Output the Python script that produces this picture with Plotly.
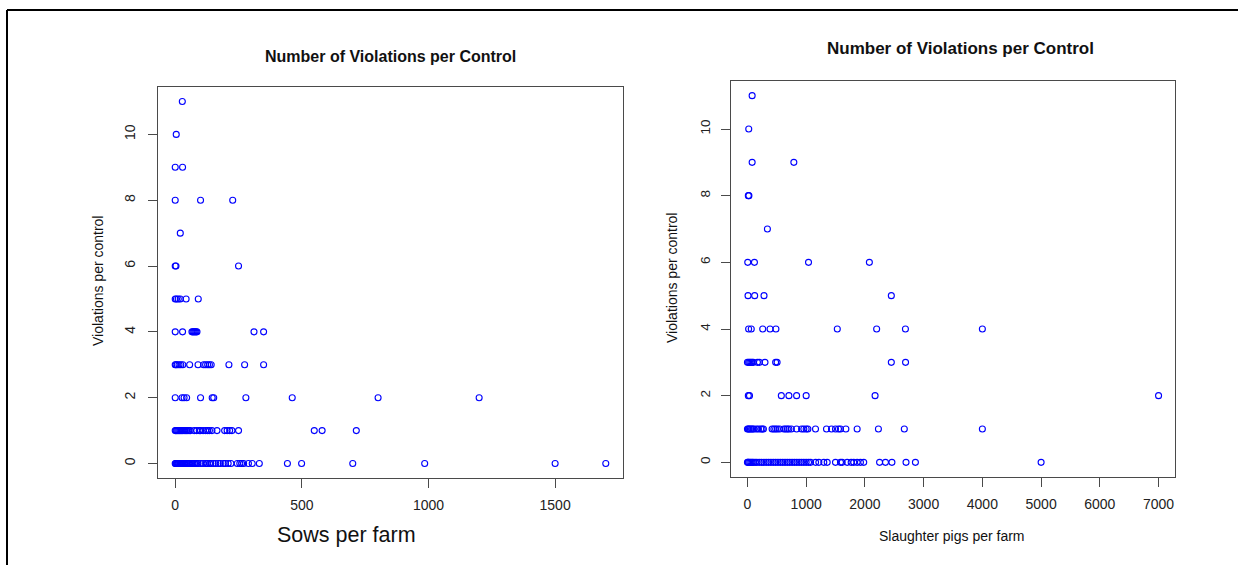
import plotly.graph_objects as go

# ---------------- data ----------------
sows_v0 = [0, 2, 5, 8, 10, 12, 15, 18, 20, 22, 25, 28, 30, 35, 40, 45, 50, 55, 60, 65, 70, 75, 80, 85, 90,
           100, 110, 120, 126, 135, 140, 150, 160, 170, 178, 190, 198, 209, 220, 245, 255, 262, 270, 289,
           304, 332, 443, 499, 701, 985, 1500, 1700]
sows_v1 = [0, 3, 6, 10, 14, 18, 22, 26, 30, 35, 40, 45, 50, 55, 60, 75, 85, 95, 100, 110, 120, 128, 135,
           145, 165, 195, 205, 215, 224, 250, 549, 580, 715]
sows_v2 = [0, 27, 35, 45, 100, 146, 152, 279, 462, 801, 1200]
sows_v3 = [0, 3, 8, 15, 22, 30, 57, 90, 112, 120, 128, 135, 142, 212, 274, 349]
sows_v4 = [0, 29, 66, 70, 74, 78, 82, 86, 311, 349]
sows_v5 = [0, 5, 12, 20, 43, 91]
sows_v6 = [0, 3, 250]
sows_v7 = [20]
sows_v8 = [0, 100, 227]
sows_v9 = [0, 29]
sows_v10 = [4]
sows_v11 = [28]

pigs_v0 = [0, 10, 20, 40, 60, 80, 100, 130, 160, 200, 240, 280, 320, 360, 400, 440, 480, 520, 560, 600,
           640, 680, 720, 760, 800, 840, 880, 920, 960, 1000, 1040, 1075, 1160, 1216, 1300, 1358, 1499,
           1584, 1613, 1698, 1766, 1810, 1868, 1924, 1980, 2250, 2350, 2460, 2700, 2860, 5000]
pigs_v1 = [0, 15, 30, 50, 70, 90, 110, 153, 187, 226, 250, 272, 420, 450, 480, 510, 549, 621, 650, 680,
           706, 747, 837, 922, 960, 1000, 1029, 1159, 1346, 1431, 1499, 1550, 1584, 1676, 1868, 2230,
           2671, 4000]
pigs_v2 = [15, 35, 577, 706, 837, 1000, 2173, 7000]
pigs_v3 = [0, 20, 40, 60, 80, 100, 170, 204, 299, 480, 505, 2450, 2692]
pigs_v4 = [20, 65, 260, 385, 485, 1530, 2200, 2690, 4000]
pigs_v5 = [10, 123, 282, 2450]
pigs_v6 = [5, 119, 1040, 2076]
pigs_v7 = [340]
pigs_v8 = [15, 25]
pigs_v9 = [80, 790]
pigs_v10 = [22]
pigs_v11 = [80]

sows_groups = [sows_v0, sows_v1, sows_v2, sows_v3, sows_v4, sows_v5, sows_v6, sows_v7, sows_v8,
               sows_v9, sows_v10, sows_v11]
pigs_groups = [pigs_v0, pigs_v1, pigs_v2, pigs_v3, pigs_v4, pigs_v5, pigs_v6, pigs_v7, pigs_v8,
               pigs_v9, pigs_v10, pigs_v11]

sows_x, sows_y = [], []
for v, g in enumerate(sows_groups):
    sows_x += g
    sows_y += [v] * len(g)
pigs_x, pigs_y = [], []
for v, g in enumerate(pigs_groups):
    pigs_x += g
    pigs_y += [v] * len(g)

left_xticks = [0, 500, 1000, 1500]
right_xticks = [0, 1000, 2000, 3000, 4000, 5000, 6000, 7000]
yticks = [0, 2, 4, 6, 8, 10]

title_text = "Number of Violations per Control"
ylab = "Violations per control"
left_xlab = "Sows per farm"
right_xlab = "Slaughter pigs per farm"

# ---------------- figure ----------------
W, H = 1238, 565
FONT = "Liberation Sans, Arial, sans-serif"
BLUE = "#0000ff"
AX = "#4a4a4a"

def px_x(p):
    return p / W

def px_y(p):
    return 1 - p / H

marker = dict(symbol="circle-open", size=6, color=BLUE, line=dict(width=1.1, color=BLUE))

fig = go.Figure()
fig.add_trace(go.Scatter(x=sows_x, y=sows_y, mode="markers", marker=marker, xaxis="x", yaxis="y",
                         showlegend=False))
fig.add_trace(go.Scatter(x=pigs_x, y=pigs_y, mode="markers", marker=marker, xaxis="x2", yaxis="y2",
                         showlegend=False))

def axis(size, standoff, **kw):
    d = dict(showline=True, mirror=True, linecolor=AX, linewidth=1, showgrid=False,
             zeroline=False, ticks="outside", ticklen=9, tickcolor=AX, tickwidth=1,
             ticklabelstandoff=standoff,
             tickfont=dict(family=FONT, size=size, color="#222"))
    d.update(kw)
    return d

fig.update_layout(
    width=W, height=H,
    margin=dict(l=0, r=0, t=0, b=0),
    paper_bgcolor="white", plot_bgcolor="white",
    xaxis=axis(14, 5, domain=[px_x(158), px_x(623)], range=[-68, 1768], tickvals=left_xticks,
               anchor="y"),
    yaxis=axis(14, 7, domain=[px_y(478), px_y(87)], range=[-0.44, 11.44], tickvals=yticks,
               tickangle=-90, anchor="x"),
    xaxis2=axis(14, 5, domain=[px_x(731), px_x(1175)], range=[-280, 7280], tickvals=right_xticks,
                anchor="y2"),
    yaxis2=axis(13.5, 6, domain=[px_y(477), px_y(81)], range=[-0.44, 11.44], tickvals=yticks,
                tickangle=-90, anchor="x2"),
)

annots = [
    dict(text="<b>" + title_text + "</b>", x=px_x(390), y=px_y(56), font=dict(size=16)),
    dict(text="<b>" + title_text + "</b>", x=px_x(960), y=px_y(48), font=dict(size=17)),
    dict(text=ylab, x=px_x(98), y=px_y(281), textangle=-90, font=dict(size=14)),
    dict(text=ylab, x=px_x(672), y=px_y(278), textangle=-90, font=dict(size=14)),
    dict(text=left_xlab, x=px_x(347), y=px_y(535), font=dict(size=21.5)),
    dict(text=right_xlab, x=px_x(952), y=px_y(536), font=dict(size=14)),
]
for a in annots:
    f = dict(family=FONT, color="#111")
    f.update(a.pop("font"))
    fig.add_annotation(xref="paper", yref="paper", showarrow=False, xanchor="center",
                       yanchor="middle", font=f, **a)

# outer frame: only top and left edges are visible in the screenshot
frame = dict(color="black", width=2)
fig.add_shape(type="line", xref="paper", yref="paper", x0=px_x(7), x1=1.0, y0=px_y(10), y1=px_y(10),
              line=frame)
fig.add_shape(type="line", xref="paper", yref="paper", x0=px_x(7), x1=px_x(7), y0=0.0, y1=px_y(10),
              line=frame)

fig.write_html("out.html", config={"displayModeBar": False},
               post_script="document.body.style.margin='0';document.body.style.overflow='hidden';")
